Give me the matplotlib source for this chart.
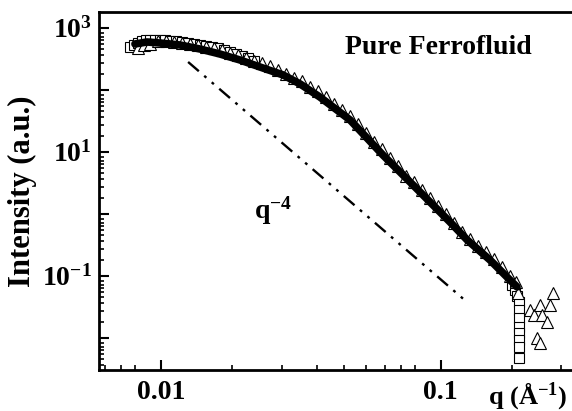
import numpy as np
import matplotlib
matplotlib.use("Agg")
from matplotlib import pyplot as plt
from matplotlib.ticker import FixedLocator, FixedFormatter, NullFormatter

plt.rcParams['font.family'] = ['Liberation Serif', 'DejaVu Serif']
plt.rcParams['font.weight'] = 'bold'
plt.rcParams['mathtext.fontset'] = 'custom'
plt.rcParams['mathtext.rm'] = 'Liberation Serif'
plt.rcParams['mathtext.bf'] = 'Liberation Serif:bold'

# dense measured curve (drawn as thick black band)
q_band = [0.00807, 0.00891, 0.00992, 0.01169, 0.01379, 0.01625, 0.01917, 0.0226, 0.0273,
          0.0314, 0.0370, 0.0412, 0.0474, 0.0545, 0.0621, 0.0715, 0.0843, 0.1079, 0.1243,
          0.1500, 0.1768, 0.1874]
I_band = [546, 588, 566, 526, 453, 376, 301, 232, 173, 124, 76, 52.6, 32.5, 16.6, 8.85,
          4.71, 2.24, 0.734, 0.377, 0.179, 0.0853, 0.0658]

# open triangles
q_tri = [0.00828, 0.00869, 0.00913, 0.00976, 0.01042, 0.01113, 0.01189, 0.01270, 0.01356,
         0.01448, 0.01547, 0.01652,
         0.01765, 0.01885, 0.02013, 0.02150, 0.02297, 0.02453, 0.02620, 0.02798, 0.02989,
         0.03192, 0.03410, 0.03642, 0.03890, 0.04155, 0.04438, 0.04740, 0.05062, 0.05407,
         0.05775, 0.06168, 0.06588, 0.07037, 0.07516, 0.08027, 0.08574, 0.09158, 0.09781,
         0.1045, 0.1116, 0.1192, 0.1273, 0.1360, 0.1452, 0.1551, 0.1657, 0.1770, 0.1859,
         0.1890, 0.2086, 0.2156, 0.2265, 0.2303, 0.2399, 0.2459, 0.2521, 0.2210, 0.2265]
I_tri = [471, 526, 546, 610, 610, 588, 567, 546, 526, 488, 471, 437,
         391, 357, 322, 295, 265, 237, 211, 182, 155,
         137, 112, 93.5, 76.2, 59.7, 47.5, 37.7, 27.5, 20.0,
         14.1, 11.1, 7.91, 5.88, 4.12, 3.25, 2.41, 1.79, 1.33,
         0.989, 0.698, 0.514, 0.384, 0.296, 0.237, 0.186, 0.138, 0.0988, 0.0791,
         0.0526, 0.0280, 0.0232, 0.0336, 0.0232, 0.0179, 0.0336, 0.0526, 0.00989, 0.00822]

# open squares
q_sq = [0.00775, 0.00801, 0.00828, 0.00855, 0.00884, 0.00913, 0.00952, 0.00992, 0.01033,
        0.01077, 0.01131, 0.01189, 0.01249, 0.01312, 0.01379, 0.01448, 0.01522, 0.01599,
        0.01680, 0.01765, 0.01854, 0.01948, 0.02046, 0.02150,
        0.1799, 0.1843, 0.1875, 0.1905, 0.1905, 0.1905, 0.1905, 0.1905, 0.1905, 0.1905, 0.1905]
I_sq = [488, 526, 567, 610, 634, 634, 634, 634, 634, 610, 610, 588, 567, 546, 526, 507,
        488, 471, 437, 405, 376, 350, 325, 290,
        0.0708, 0.0588, 0.0470, 0.0375, 0.0280, 0.0208, 0.0149, 0.0119, 0.00918, 0.00708, 0.00471]

# q^-4 guide line end points
q_guide = [0.0125, 0.124]
I_guide = [280, 0.0377]


def main():
    fig = plt.figure(figsize=(5.72, 4.11), dpi=100)
    ax = fig.add_axes([99 / 572, 41 / 411, 473 / 572, 358 / 411])

    ax.plot(q_guide, I_guide, color='black', lw=1.7,
            linestyle=(0, (6, 3, 1.2, 3, 1.2, 3)))
    ax.plot(q_sq, I_sq, linestyle='none', marker='s', ms=6.5, mfc='white',
            mec='black', mew=0.8)
    ax.plot(q_tri, I_tri, linestyle='none', marker='^', ms=9, mfc='white',
            mec='black', mew=0.8)
    ax.plot(q_band, I_band, color='black', lw=5.5, solid_capstyle='round')

    ax.set_xscale('log')
    ax.set_yscale('log')
    ax.set_xlim(0.006003, 0.2946)
    ax.set_ylim(0.00301, 1791)

    # Origin style minor ticks at 0.9*k per decade
    minor = []
    for d in range(-4, 4):
        for k in range(2, 10):
            minor.append(0.9 * k * 10.0 ** d)
    ax.xaxis.set_major_locator(FixedLocator([0.01, 0.1]))
    ax.xaxis.set_major_formatter(FixedFormatter(['0.01', '0.1']))
    ax.xaxis.set_minor_locator(FixedLocator(minor))
    ax.xaxis.set_minor_formatter(NullFormatter())

    yt = [10.0 ** e for e in range(-2, 4)]
    ylab = ['', r'$\mathbf{10^{-1}}$', '', r'$\mathbf{10^{1}}$', '', r'$\mathbf{10^{3}}$']
    ax.yaxis.set_major_locator(FixedLocator(yt))
    ax.yaxis.set_major_formatter(FixedFormatter(ylab))
    ax.yaxis.set_minor_locator(FixedLocator(minor))
    ax.yaxis.set_minor_formatter(NullFormatter())

    ax.tick_params(which='major', direction='in', length=7, width=1.5,
                   labelsize=20, pad=5)
    ax.tick_params(which='minor', direction='in', length=3.5, width=1.2)
    ax.tick_params(axis='x', which='major', pad=7)
    ax.tick_params(top=False, right=False)
    for s in ['left', 'bottom', 'top']:
        ax.spines[s].set_linewidth(2)
    ax.spines['right'].set_visible(False)

    ax.set_ylabel('Intensity (a.u.)', fontsize=22, fontweight='bold', labelpad=4)
    fig.text(528 / 572, 1 - 396 / 411, r'q ($\mathbf{\AA^{-1}}$)', fontsize=19,
             fontweight='bold', ha='center', va='center')
    ax.text(438 / 572 * 572 / 473 - 99 / 473, 1 - 47 / 358 + 12 / 358, 'Pure Ferrofluid',
            transform=ax.transAxes, fontsize=20, fontweight='bold', ha='center', va='center')
    ax.text(q_guide[0] * 1.72, 1.1, r'$\mathbf{q^{-4}}$', fontsize=20, ha='left', va='center')

    fig.savefig('out.png', dpi=100)


if __name__ == '__main__':
    main()
